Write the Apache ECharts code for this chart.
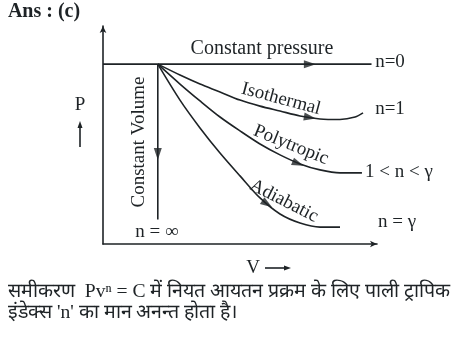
<!DOCTYPE html>
<html>
<head>
<meta charset="utf-8">
<script src="https://cdn.jsdelivr.net/npm/echarts@6/dist/echarts.min.js"></script>
<style>
  html, body { margin: 0; padding: 0; background: #fff; }
  #chart { width: 470px; height: 349px; }
</style>
</head>
<body>
<div id="chart"></div>
<script>
// P-V diagram of polytropic processes P V^n = C, all starting from one state.
const constPressure = [[0, 6.6], [2.0, 6.6], [9.8, 6.6]];
const constVolume = [[2.0, 6.6], [2.0, 0.9]];
const isothermal = [[2.0, 6.6], [2.81, 6.2], [3.54, 5.87], [4.27, 5.58], [5.0, 5.28], [5.73, 5.06], [6.46, 4.88],
  [7.19, 4.7], [7.92, 4.59], [8.65, 4.57], [9.2, 4.66], [9.49, 4.81]];
const polytropic = [[2.0, 6.6], [2.81, 5.87], [3.54, 5.25], [4.27, 4.66], [5.0, 4.15], [5.73, 3.67], [6.46, 3.27],
  [7.19, 2.94], [7.92, 2.72], [8.65, 2.61], [9.45, 2.61]];
const adiabatic = [[2.0, 6.6], [2.81, 5.28], [3.54, 4.26], [4.27, 3.34], [5.0, 2.5], [5.73, 1.69], [6.46, 1.1],
  [7.19, 0.77], [7.92, 0.62], [8.65, 0.62]];

// direction arrows sitting on each path: [V, P, heading in degrees]
const arrowMarks = [[7.55, 6.6, -90], [2.0, 3.3, 180], [7.55, 4.64, -100], [7.12, 2.95, -112], [5.99, 1.47, -124]];

const ink = '#1e2326';
const serif = '"Liberation Serif", "DejaVu Serif", serif';

const chart = echarts.init(document.getElementById('chart'));

function path(data, smooth) {
  return {
    type: 'line', data: data, smooth: smooth,
    showSymbol: false, silent: true,
    lineStyle: { color: ink, width: 1.6 }
  };
}

function txt(x, y, s, opt) {
  return {
    type: 'text', x: x, y: y, rotation: (opt && opt.rot ? opt.rot : 0) * Math.PI / 180,
    style: Object.assign({
      text: s, fill: ink, font: '19px ' + serif,
      align: 'center', verticalAlign: 'middle'
    }, opt && opt.style ? opt.style : {})
  };
}

chart.setOption({
  animation: false,
  grid: { left: 103, top: 26, right: 93, bottom: 105 },
  xAxis: {
    type: 'value', min: 0, max: 10,
    axisLine: { show: true, lineStyle: { color: ink, width: 1.6 }, symbol: ['none', 'arrow'], symbolSize: [5, 7] },
    axisTick: { show: false }, axisLabel: { show: false }, splitLine: { show: false }
  },
  yAxis: {
    type: 'value', min: 0, max: 8,
    axisLine: { show: true, lineStyle: { color: ink, width: 1.6 }, symbol: ['none', 'arrow'], symbolSize: [5, 7] },
    axisTick: { show: false }, axisLabel: { show: false }, splitLine: { show: false }
  },
  series: [
    path(constPressure, false),
    path(constVolume, false),
    path(isothermal, 0.3),
    path(polytropic, 0.3),
    path(adiabatic, 0.3),
    {
      type: 'scatter', silent: true,
      data: arrowMarks.map(a => ({ value: [a[0], a[1]], symbolRotate: a[2] })),
      symbol: 'triangle', symbolSize: [8, 12],
      itemStyle: { color: ink }
    }
  ],
  graphic: [
    txt(44, 12, 'Ans : (c)', { style: { font: 'bold 20px ' + serif } }),
    txt(262, 49, 'Constant pressure', { style: { font: '20px ' + serif } }),
    txt(390, 62, 'n=0'),
    txt(281, 99, 'Isothermal', { rot: -15 }),
    txt(390, 109, 'n=1'),
    txt(291, 145, 'Polytropic', { rot: -22 }),
    txt(399, 172, '1 < n < γ'),
    txt(284, 201, 'Adiabatic', { rot: -27 }),
    txt(397, 222, 'n = γ'),
    txt(139, 142, 'Constant Volume', { rot: 90 }),
    txt(157, 232, 'n = ∞'),
    txt(80, 105, 'P'),
    { type: 'line', shape: { x1: 80, y1: 147, x2: 80, y2: 126 }, style: { stroke: ink, lineWidth: 1.6 } },
    { type: 'polygon', shape: { points: [[80, 121], [77.5, 128], [82.5, 128]] }, style: { fill: ink } },
    txt(253, 268, 'V'),
    { type: 'line', shape: { x1: 265, y1: 268, x2: 285, y2: 268 }, style: { stroke: ink, lineWidth: 1.6 } },
    { type: 'polygon', shape: { points: [[291, 268], [284, 265.5], [284, 270.5]] }, style: { fill: ink } },
    txt(8, 292, 'समीकरण  Pvⁿ = C में नियत आयतन प्रक्रम के लिए पाली ट्रापिक', { style: { align: 'left', font: '19.6px ' + serif } }),
    txt(8, 313, "इंडेक्स 'n' का मान अनन्त होता है।", { style: { align: 'left', font: '19.6px ' + serif } })
  ]
});
</script>
</body>
</html>
